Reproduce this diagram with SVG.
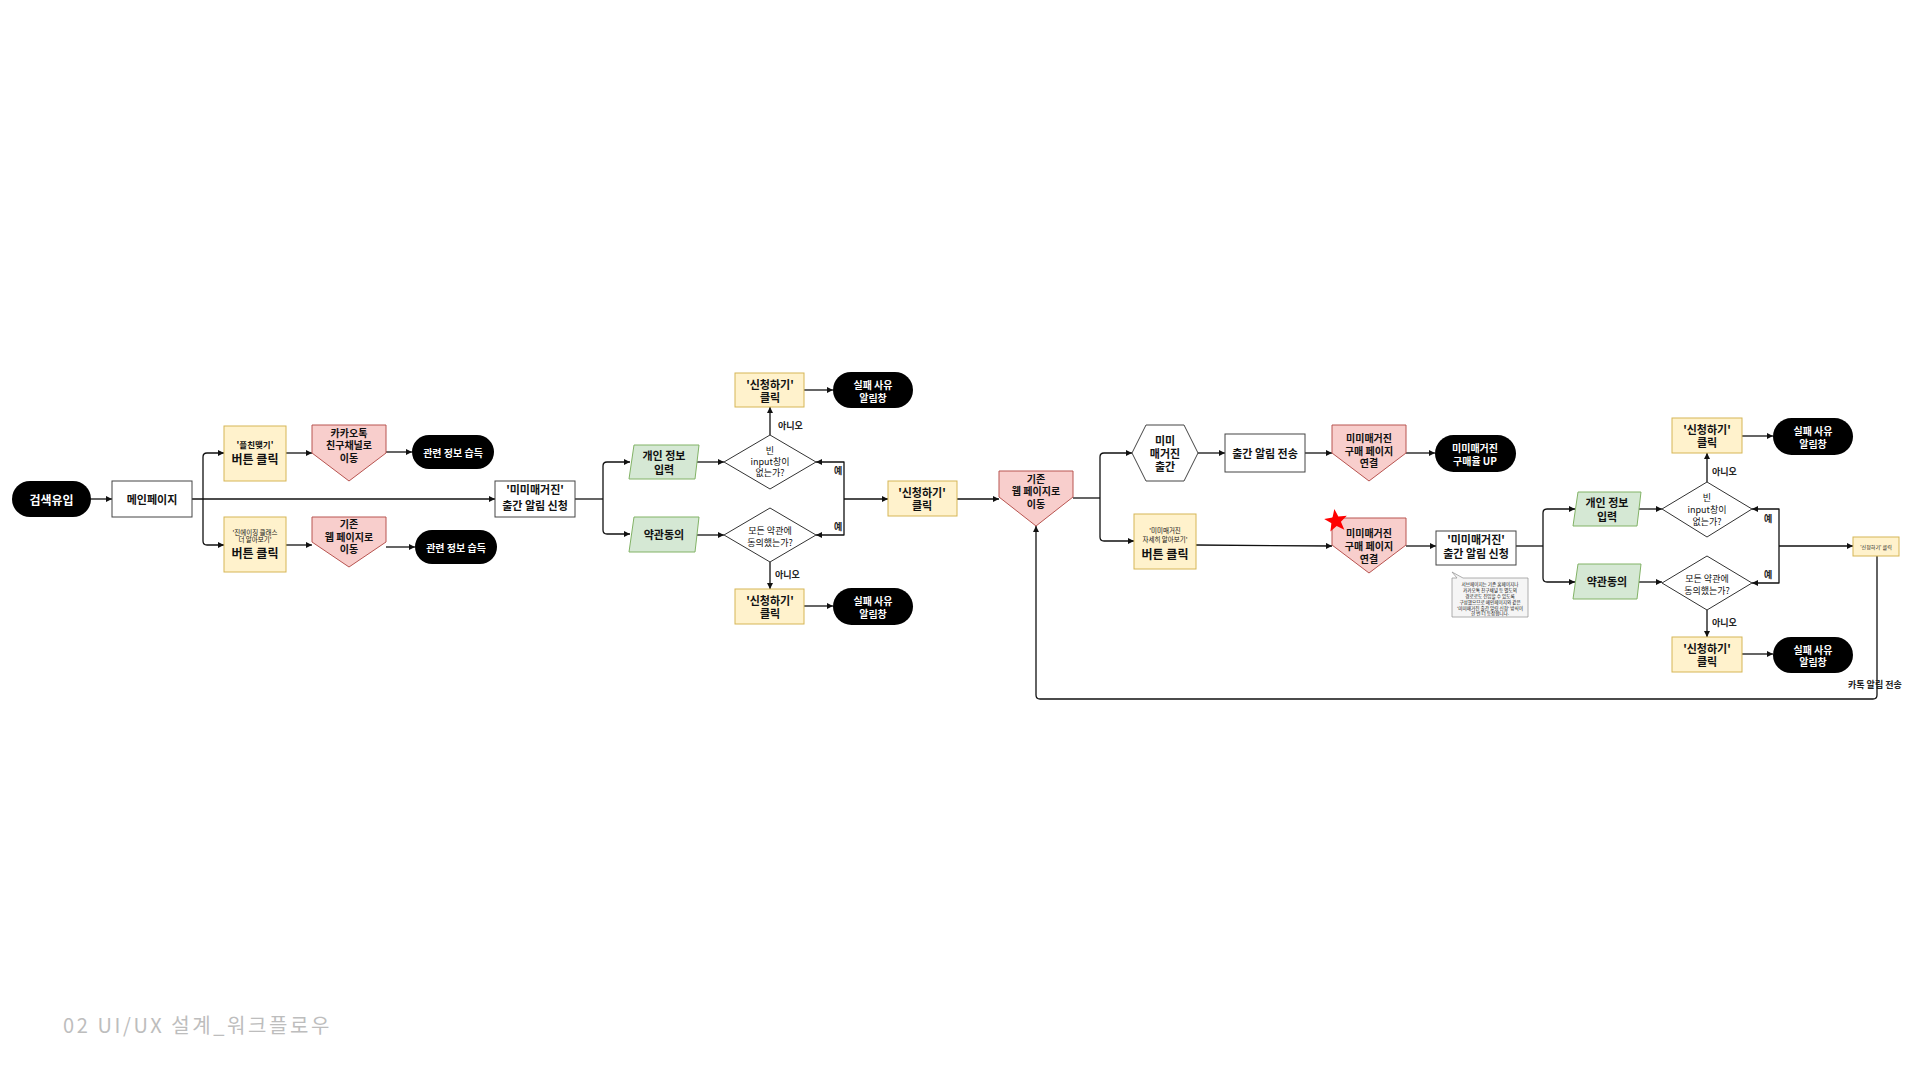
<svg xmlns="http://www.w3.org/2000/svg" width="1920" height="1080" viewBox="0 0 1920 1080">
<defs>
<marker id="ah" viewBox="0 0 10 10" refX="10" refY="5" markerWidth="6" markerHeight="6" markerUnits="userSpaceOnUse" orient="auto">
<path d="M0,0 L10,5 L0,10 z" fill="#111"/>
</marker>
<style>
text{font-family:"Noto Sans CJK KR","Noto Sans",sans-serif;text-anchor:middle;dominant-baseline:central;fill:#111}
.b{font-weight:bold}
.wt{fill:#fff;font-weight:bold}
.y{fill:#fff2cc;stroke:#d6b656;stroke-width:1}
.p{fill:#f8cecc;stroke:#b85450;stroke-width:1}
.g{fill:#d5e8d4;stroke:#82b366;stroke-width:1}
.k{fill:#000}
.w{fill:#fff;stroke:#444;stroke-width:1}
.d{fill:#fff;stroke:#333;stroke-width:1}
.c path{fill:none;stroke:#111;stroke-width:1.3;stroke-linejoin:round}
.c path.a{marker-end:url(#ah)}
.f12{font-size:12px}.f11{font-size:11px}.f10{font-size:10px}.f9{font-size:9px}.f8{font-size:8.5px}.f6{font-size:6.5px}
.pt{font-size:10px;font-weight:bold}
.lbl{font-size:9px;font-weight:bold;fill:#222;text-anchor:start}
</style>
</defs>
<rect width="1920" height="1080" fill="#fff"/>

<g id="connectors" class="c">
<path class="a" d="M91,499 H112"/>
<path class="a" d="M192,499 H495"/>
<path class="a" d="M203,499 V457 Q203,453 207,453 H224"/>
<path class="a" d="M203,499 V541 Q203,545 207,545 H224"/>
<path class="a" d="M286,453 H312"/>
<path class="a" d="M386,452 H412"/>
<path class="a" d="M286,545 H312"/>
<path class="a" d="M386,547 H415"/>
<path d="M575,499 H603"/>
<path class="a" d="M603,499 V466 Q603,462 607,462 H630"/>
<path class="a" d="M603,499 V530 Q603,534 607,534 H630"/>
<path class="a" d="M697,462 H724"/>
<path class="a" d="M697,535 H724"/>
<path class="a" d="M770,435 V407"/>
<path class="a" d="M770,562 V589"/>
<path class="a" d="M804,390 H833"/>
<path class="a" d="M804,606 H833"/>
<path class="a" d="M844,499 V462 H816"/>
<path class="a" d="M844,499 V535 H816"/>
<path class="a" d="M844,499 H888"/>
<path class="a" d="M957,499 H999"/>
<path d="M1073,498 H1100"/>
<path class="a" d="M1100,498 V457 Q1100,453 1104,453 H1132"/>
<path class="a" d="M1100,498 V537 Q1100,541 1104,541 H1134"/>
<path class="a" d="M1198,453 H1225"/>
<path class="a" d="M1305,453 H1332"/>
<path class="a" d="M1406,453 H1435"/>
<path class="a" d="M1196,545 L1332,546"/>
<path class="a" d="M1406,546 H1436"/>
<path d="M1516,546 H1543"/>
<path class="a" d="M1543,546 V513 Q1543,509 1547,509 H1575"/>
<path class="a" d="M1543,546 V578 Q1543,582 1547,582 H1575"/>
<path class="a" d="M1639,509 H1662"/>
<path class="a" d="M1639,582 H1662"/>
<path class="a" d="M1707,482 V453"/>
<path class="a" d="M1707,610 V637"/>
<path class="a" d="M1742,436 H1773"/>
<path class="a" d="M1742,654 H1773"/>
<path class="a" d="M1779,546 V509 H1752"/>
<path class="a" d="M1779,546 V583 H1752"/>
<path class="a" d="M1779,546 H1853"/>
<path class="a" d="M1877,556 V695 Q1877,699 1873,699 H1040 Q1036,699 1036,695 V526"/>
</g>

<g id="labels">
<text class="lbl" x="778" y="425">아니오</text>
<text class="lbl" x="775" y="574">아니오</text>
<text class="lbl" x="834" y="470">예</text>
<text class="lbl" x="834" y="526">예</text>
<text class="lbl" x="1712" y="471">아니오</text>
<text class="lbl" x="1712" y="622">아니오</text>
<text class="lbl" x="1764" y="518">예</text>
<text class="lbl" x="1764" y="574">예</text>
<text class="lbl" x="1848" y="684">카톡 알림 전송</text>
</g>

<g id="n-search"><rect class="k" x="12" y="481" width="79" height="36" rx="18"/><text class="wt f12" x="51.5" y="499">검색유입</text></g>
<g id="n-main"><rect class="w" x="112" y="481" width="80" height="36"/><text class="b f11" x="152" y="499">메인페이지</text></g>
<g id="n-plus"><rect class="y" x="224" y="426" width="62" height="55"/><text class="b f8" x="255" y="444">'플친맺기'</text><text class="b f12" x="255" y="458">버튼 클릭</text></g>
<g id="n-class"><rect class="y" x="224" y="517" width="62" height="55"/><text class="f6" x="255" y="532">'진에이징 클래스</text><text class="f6" x="255" y="539">더 알아보기'</text><text class="b f12" x="255" y="552">버튼 클릭</text></g>
<g id="n-kakao"><polygon class="p" points="312,425 386,425 386,453 349,481 312,453"/><text class="pt" x="349" y="432">카카오톡</text><text class="pt" x="349" y="444.5">친구채널로</text><text class="pt" x="349" y="457">이동</text></g>
<g id="n-web1"><polygon class="p" points="312,517 386,517 386,542 349,567 312,542"/><text class="pt" x="349" y="523.5">기존</text><text class="pt" x="349" y="536">웹 페이지로</text><text class="pt" x="349" y="548.5">이동</text></g>
<g id="n-info1"><rect class="k" x="412" y="435" width="82" height="34" rx="17"/><text class="wt f10" x="453" y="452">관련 정보 습득</text></g>
<g id="n-info2"><rect class="k" x="415" y="530" width="82" height="34" rx="17"/><text class="wt f10" x="456" y="547">관련 정보 습득</text></g>
<g id="n-apply1"><rect class="w" x="495" y="481" width="80" height="36"/><text class="b f11" x="535" y="489">'미미매거진'</text><text class="b f11" x="535" y="505">출간 알림 신청</text></g>
<g id="n-pi1"><polygon class="g" points="634,445 699,445 695,479 629,479"/><text class="b f11" x="664" y="455">개인 정보</text><text class="b f11" x="664" y="469">입력</text></g>
<g id="n-tos1"><polygon class="g" points="634,517 699,517 695,552 629,552"/><text class="b f11" x="664" y="534">약관동의</text></g>
<g id="n-q1"><polygon class="d" points="724,462 770,435 816,462 770,489"/><text class="f9" x="770" y="450">빈</text><text class="f9" x="770" y="461">input창이</text><text class="f9" x="770" y="472">없는가?</text></g>
<g id="n-q2"><polygon class="d" points="724,535 770,508 816,535 770,562"/><text class="f9" x="770" y="530">모든 약관에</text><text class="f9" x="770" y="542">동의했는가?</text></g>
<g id="n-c1"><rect class="y" x="735" y="373" width="69" height="34"/><text class="b f11" x="770" y="384">'신청하기'</text><text class="b f11" x="770" y="397">클릭</text></g>
<g id="n-f1"><rect class="k" x="833" y="372" width="80" height="36" rx="18"/><text class="wt f10" x="873" y="384">실패 사유</text><text class="wt f10" x="873" y="397">알림창</text></g>
<g id="n-c2"><rect class="y" x="735" y="589" width="69" height="35"/><text class="b f11" x="770" y="600">'신청하기'</text><text class="b f11" x="770" y="613">클릭</text></g>
<g id="n-f2"><rect class="k" x="833" y="588" width="80" height="37" rx="18.5"/><text class="wt f10" x="873" y="600">실패 사유</text><text class="wt f10" x="873" y="613">알림창</text></g>
<g id="n-c3"><rect class="y" x="888" y="481" width="69" height="35"/><text class="b f11" x="922" y="492">'신청하기'</text><text class="b f11" x="922" y="505">클릭</text></g>
<g id="n-web2"><polygon class="p" points="999,471 1073,471 1073,497 1036,526 999,497"/><text class="pt" x="1036" y="478">기존</text><text class="pt" x="1036" y="490.5">웹 페이지로</text><text class="pt" x="1036" y="503">이동</text></g>
<g id="n-pub"><polygon class="w" points="1132,453 1146,425 1184,425 1198,453 1184,481 1146,481"/><text class="b f11" x="1165" y="440">미미</text><text class="b f11" x="1165" y="453">매거진</text><text class="b f11" x="1165" y="466">출간</text></g>
<g id="n-more"><rect class="y" x="1134" y="514" width="62" height="55"/><text class="f6" x="1165" y="530">'미미매거진</text><text class="f6" x="1165" y="539">자세히 알아보기'</text><text class="b f12" x="1165" y="553">버튼 클릭</text></g>
<g id="n-send"><rect class="w" x="1225" y="434" width="80" height="38"/><text class="b f11" x="1265" y="453">출간 알림 전송</text></g>
<g id="n-buy1"><polygon class="p" points="1332,425 1406,425 1406,453 1369,481 1332,453"/><text class="pt" x="1369" y="437.5">미미매거진</text><text class="pt" x="1369" y="450">구매 페이지</text><text class="pt" x="1369" y="462.5">연결</text></g>
<g id="n-up"><rect class="k" x="1435" y="435" width="81" height="37" rx="18.5"/><text class="wt f10" x="1475" y="447">미미매거진</text><text class="wt f10" x="1475" y="460">구매율 UP</text></g>
<g id="n-buy2"><polygon class="p" points="1332,518 1406,518 1406,545 1369,573 1332,545"/><text class="pt" x="1369" y="532">미미매거진</text><text class="pt" x="1369" y="545">구매 페이지</text><text class="pt" x="1369" y="558">연결</text><polygon transform="translate(1336,521) rotate(-8)" fill="#ff0000" points="0,-12 2.94,-4.05 11.41,-3.71 4.76,1.55 7.05,9.71 0,5 -7.05,9.71 -4.76,1.55 -11.41,-3.71 -2.94,-4.05"/></g>
<g id="n-apply2"><rect class="w" x="1436" y="531" width="80" height="34"/><text class="b f11" x="1476" y="539">'미미매거진'</text><text class="b f11" x="1476" y="553">출간 알림 신청</text></g>
<g id="n-note"><path d="M1452,578 H1457 L1452,572 L1463,578 H1528 V617 H1452 Z" fill="#f5f5f5" stroke="#999" stroke-width="0.8"/>
<text font-size="4.6" x="1490" y="584">서브페이지는 기존 홈페이지나</text>
<text font-size="4.6" x="1490" y="590">카카오톡 친구채널 등 별도의</text>
<text font-size="4.6" x="1490" y="596">경로로도 진입할 수 있도록</text>
<text font-size="4.6" x="1490" y="602">구성했으므로 메인페이지와 같은</text>
<text font-size="4.6" x="1490" y="607.5">'미미매거진 출간 알림 신청' 방식이</text>
<text font-size="4.6" x="1490" y="613">한 번 더 등장합니다.</text></g>
<g id="n-pi2"><polygon class="g" points="1578,492 1641,492 1637,526 1573,526"/><text class="b f11" x="1607" y="502">개인 정보</text><text class="b f11" x="1607" y="516">입력</text></g>
<g id="n-tos2"><polygon class="g" points="1578,564 1641,564 1637,599 1573,599"/><text class="b f11" x="1607" y="581">약관동의</text></g>
<g id="n-q3"><polygon class="d" points="1662,509 1707,482 1752,509 1707,537"/><text class="f9" x="1707" y="497">빈</text><text class="f9" x="1707" y="509">input창이</text><text class="f9" x="1707" y="521">없는가?</text></g>
<g id="n-q4"><polygon class="d" points="1662,583 1707,556 1752,583 1707,610"/><text class="f9" x="1707" y="578">모든 약관에</text><text class="f9" x="1707" y="590">동의했는가?</text></g>
<g id="n-c4"><rect class="y" x="1672" y="418" width="70" height="35"/><text class="b f11" x="1707" y="429">'신청하기'</text><text class="b f11" x="1707" y="442">클릭</text></g>
<g id="n-f3"><rect class="k" x="1773" y="418" width="80" height="37" rx="18.5"/><text class="wt f10" x="1813" y="430">실패 사유</text><text class="wt f10" x="1813" y="443">알림창</text></g>
<g id="n-c5"><rect class="y" x="1672" y="637" width="70" height="35"/><text class="b f11" x="1707" y="648">'신청하기'</text><text class="b f11" x="1707" y="661">클릭</text></g>
<g id="n-f4"><rect class="k" x="1773" y="637" width="80" height="36" rx="18"/><text class="wt f10" x="1813" y="649">실패 사유</text><text class="wt f10" x="1813" y="661">알림창</text></g>
<g id="n-c6"><rect class="y" x="1853" y="537" width="46" height="19"/><text font-size="5" x="1876" y="546.5">'신청하기' 클릭</text></g>

<text x="63" y="1024" font-size="20" letter-spacing="2.6" style="text-anchor:start;fill:#bdbdbd">02 UI/UX 설계_워크플로우</text>
</svg>
